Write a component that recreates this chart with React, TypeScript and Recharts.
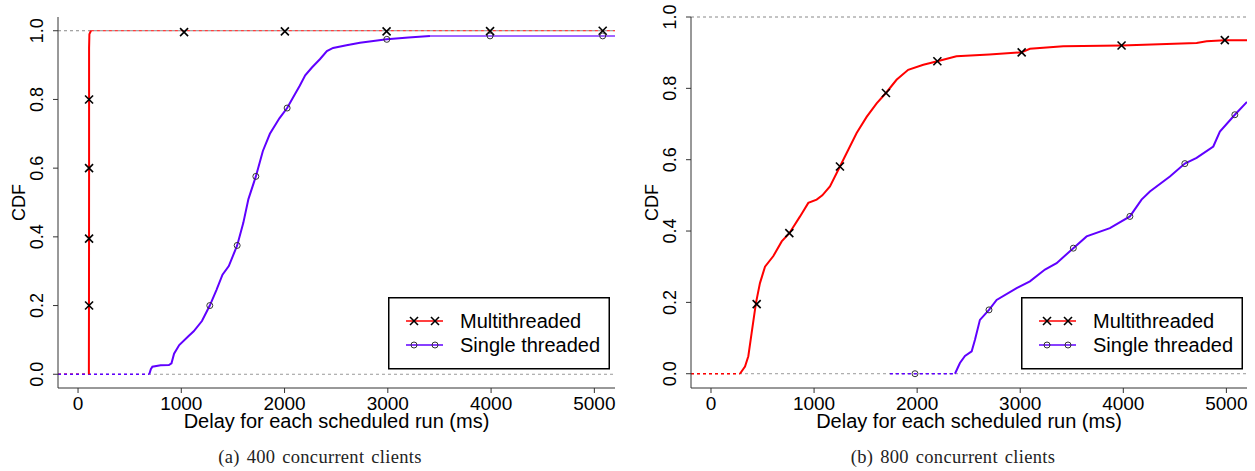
import React from "react";
import { ComposedChart, Line, Scatter, XAxis, YAxis, ReferenceLine } from "recharts";

// ---- data (delay in ms, CDF) ----
const X_TICKS = [0, 1000, 2000, 3000, 4000, 5000];
const Y_TICKS = [0, 0.2, 0.4, 0.6, 0.8, 1.0];

// (a) 400 concurrent clients
const multiA = [[105, 0], [106, 0.2], [107, 0.6], [107, 0.95], [110, 0.99], [125, 1.0]];
const multiAStart = [[-194, 0], [105, 0]];
const multiATail = [[125, 1.0], [5200, 1.0]];
const multiAMarks = [[107, 0.2], [107, 0.395], [107, 0.6], [107, 0.8], [1027, 0.996], [2003, 0.998], [2988, 0.998], [3990, 0.999], [5081, 1.0]];

const singleA = [
  [690, 0], [705, 0.015], [720, 0.022], [800, 0.026], [880, 0.027], [905, 0.032], [930, 0.06], [980, 0.085],
  [1066, 0.11], [1120, 0.125], [1200, 0.155], [1276, 0.2], [1340, 0.245], [1399, 0.29], [1460, 0.315],
  [1541, 0.375], [1600, 0.44], [1650, 0.51], [1722, 0.576], [1790, 0.65], [1858, 0.7], [1950, 0.745],
  [2025, 0.775], [2100, 0.815], [2147, 0.84], [2200, 0.87], [2265, 0.893], [2342, 0.917], [2410, 0.941],
  [2470, 0.95], [2600, 0.958], [2730, 0.965], [2990, 0.975], [3200, 0.98], [3408, 0.985],
];
const singleAStart = [[-194, 0], [690, 0]];
const singleATail = [[3408, 0.985], [5200, 0.985]];
const singleAMarks = [[1276, 0.2], [1541, 0.375], [1722, 0.576], [2025, 0.775], [2990, 0.975], [3990, 0.985], [5081, 0.985]];

// (b) 800 concurrent clients
const multiB = [
  [281, 0], [330, 0.02], [362, 0.049], [394, 0.114], [436, 0.198], [475, 0.254], [524, 0.3], [605, 0.33],
  [686, 0.371], [760, 0.394], [864, 0.441], [944, 0.479], [1025, 0.488], [1080, 0.5], [1154, 0.525],
  [1251, 0.581], [1332, 0.628], [1413, 0.675], [1510, 0.72], [1607, 0.758], [1697, 0.787], [1800, 0.824],
  [1913, 0.852], [2060, 0.866], [2196, 0.876], [2381, 0.89], [2700, 0.895], [3014, 0.901], [3094, 0.911],
  [3417, 0.918], [3983, 0.92], [4711, 0.927], [4808, 0.932], [4985, 0.935], [5200, 0.935],
];
const multiBStart = [[-194, 0], [281, 0]];
const multiBMarks = [[443, 0.195], [760, 0.394], [1251, 0.581], [1697, 0.787], [2196, 0.876], [3014, 0.901], [3983, 0.92], [4985, 0.935]];

const singleB = [
  [2367, 0], [2415, 0.03], [2464, 0.05], [2529, 0.063], [2561, 0.095], [2609, 0.151], [2697, 0.179],
  [2771, 0.207], [2965, 0.24], [3094, 0.259], [3240, 0.292], [3353, 0.31], [3515, 0.352], [3644, 0.385],
  [3870, 0.408], [4064, 0.441], [4177, 0.488], [4258, 0.511], [4452, 0.553], [4597, 0.589], [4711, 0.605],
  [4873, 0.637], [4937, 0.679], [5082, 0.726], [5200, 0.762],
];
const singleBStart = [[1736, 0], [2367, 0]];
const singleBMarks = [[1979, 0], [2697, 0.179], [3515, 0.352], [4064, 0.441], [4597, 0.589], [5082, 0.726]];

const RED = "#ff0000";
const BLUE = "#6000ff";
const SANS = '"Liberation Sans", Arial, Helvetica, sans-serif';
const SERIF = '"Liberation Serif", "Times New Roman", serif';
const X_DOMAIN = [-194, 5200];

const pts = (arr: number[][]) => arr.map(([x, y]) => ({ x, y }));

const XMark = (p: any) => (
  <g stroke="#000" strokeWidth={1.6}>
    <line x1={p.cx - 4} y1={p.cy - 4} x2={p.cx + 4} y2={p.cy + 4} />
    <line x1={p.cx - 4} y1={p.cy + 4} x2={p.cx + 4} y2={p.cy - 4} />
  </g>
);
const OMark = (p: any) => <circle cx={p.cx} cy={p.cy} r={3} fill="none" stroke="#333" strokeWidth={1} />;

// x tick labels, baseline set just under the tick marks
const XTick = (props: any) => {
  const { x, y, payload } = props;
  return (
    <text x={x} y={y + 13} textAnchor="middle" fontSize={19} fontFamily={SANS} fill="#000">
      {payload.value}
    </text>
  );
};

// y tick labels are turned like R's default las=0
const YTick = (props: any) => {
  const { x, y, payload } = props;
  return (
    <text x={x} y={y} transform={`rotate(-90, ${x}, ${y})`} textAnchor="middle" fontSize={18} fontFamily={SANS} fill="#000">
      {Number(payload.value).toFixed(1)}
    </text>
  );
};

const xLabel = (p: any) => {
  const vb = p.viewBox;
  return (
    <text x={vb.x + vb.width / 2} y={428} textAnchor="middle" fontSize={20} fontFamily={SANS} fill="#000">
      Delay for each scheduled run (ms)
    </text>
  );
};

const yLabel = (p: any) => {
  const vb = p.viewBox;
  const x = vb.x + 7;
  const y = vb.y + vb.height / 2;
  return (
    <text x={x} y={y} transform={`rotate(-90, ${x}, ${y})`} textAnchor="middle" fontSize={18} fontFamily={SANS} fill="#000">
      CDF
    </text>
  );
};

function LegendBox({ left }: { left: number }) {
  return (
    <svg style={{ position: "absolute", left, top: 297, overflow: "visible" }} width={222} height={73}>
      <rect x={0.75} y={0.75} width={220.5} height={71} fill="#fff" stroke="#000" strokeWidth={1.5} />
      <line x1={18} y1={24} x2={55} y2={24} stroke={RED} strokeWidth={1.5} />
      <XMark cx={26} cy={24} />
      <XMark cx={47} cy={24} />
      <text x={72} y={31} fontSize={20} fontFamily={SANS} fill="#000">Multithreaded</text>
      <line x1={18} y1={48} x2={55} y2={48} stroke={BLUE} strokeWidth={1.5} />
      <OMark cx={26} cy={48} />
      <OMark cx={47} cy={48} />
      <text x={72} y={55} fontSize={20} fontFamily={SANS} fill="#000">Single threaded</text>
    </svg>
  );
}

type PanelProps = {
  left: number;
  width: number;
  margin: { top: number; right: number; bottom: number; left: number };
  yDomain: number[];
  topBorder: boolean;
  caption: string;
  captionX: number;
  legendLeft: number;
  multi: number[][];
  multiStart: number[][];
  multiTail?: number[][];
  multiMarks: number[][];
  single: number[][];
  singleStart: number[][];
  singleTail?: number[][];
  singleMarks: number[][];
};

function Panel(p: PanelProps) {
  return (
    <>
      <div style={{ position: "absolute", left: p.left, top: 0, width: p.width, height: 440 }}>
        <ComposedChart width={p.width} height={440} margin={p.margin}>
          <XAxis
            dataKey="x"
            type="number"
            domain={X_DOMAIN}
            ticks={X_TICKS}
            allowDataOverflow
            interval={0}
            height={40}
            tickSize={5}
            tickMargin={4}
            stroke="#333"
            tick={<XTick />}
            label={xLabel}
          />
          {p.topBorder && (
            <XAxis xAxisId="top" orientation="top" type="number" domain={X_DOMAIN} allowDataOverflow height={0} tick={false} tickLine={false} stroke="#555" />
          )}
          <YAxis
            type="number"
            domain={p.yDomain}
            ticks={Y_TICKS}
            allowDataOverflow
            interval={0}
            width={40}
            tickSize={5}
            tickMargin={10}
            stroke="#333"
            tick={<YTick />}
            label={yLabel}
          />
          <YAxis yAxisId="right" orientation="right" type="number" domain={p.yDomain} allowDataOverflow width={0} tick={false} tickLine={false} stroke="#333" />
          <ReferenceLine y={0} stroke="#999" strokeDasharray="3 3" strokeWidth={1} />
          <ReferenceLine y={1} stroke="#888" strokeDasharray="3 3" strokeWidth={1} />

          <Line data={pts(p.multiStart)} dataKey="y" stroke={RED} strokeWidth={1.5} strokeDasharray="3 3" dot={false} isAnimationActive={false} />
          <Line data={pts(p.singleStart)} dataKey="y" stroke={BLUE} strokeWidth={1.5} strokeDasharray="3 3" dot={false} isAnimationActive={false} />
          {p.multiTail && (
            <Line data={pts(p.multiTail)} dataKey="y" stroke={RED} strokeWidth={1.2} strokeDasharray="3 3" dot={false} isAnimationActive={false} />
          )}
          <Line data={pts(p.multi)} dataKey="y" stroke={RED} strokeWidth={2} dot={false} isAnimationActive={false} />
          <Line data={pts(p.single)} dataKey="y" stroke={BLUE} strokeWidth={2} dot={false} isAnimationActive={false} />
          {p.singleTail && (
            <Line data={pts(p.singleTail)} dataKey="y" stroke={BLUE} strokeOpacity={0.6} strokeWidth={2} dot={false} isAnimationActive={false} />
          )}
          <Scatter data={pts(p.multiMarks)} dataKey="y" shape={XMark} isAnimationActive={false} />
          <Scatter data={pts(p.singleMarks)} dataKey="y" shape={OMark} isAnimationActive={false} />
        </ComposedChart>
      </div>
      <LegendBox left={p.legendLeft} />
      <div
        style={{
          position: "absolute",
          left: p.captionX - 150,
          width: 300,
          top: 447,
          textAlign: "center",
          fontFamily: SERIF,
          fontSize: 18.5,
          letterSpacing: 0.3,
          wordSpacing: 2,
          color: "#222",
          whiteSpace: "nowrap",
        }}
      >
        {p.caption}
      </div>
    </>
  );
}

export default function App() {
  return (
    <div style={{ position: "absolute", left: 0, top: 0, width: 1255, height: 471, background: "#fff", overflow: "hidden" }}>
      <Panel
        left={0}
        width={630}
        margin={{ top: 17, right: 15, bottom: 12, left: 18 }}
        yDomain={[-0.04, 1.04]}
        topBorder
        caption="(a) 400 concurrent clients"
        captionX={320}
        legendLeft={388}
        multi={multiA}
        multiStart={multiAStart}
        multiTail={multiATail}
        multiMarks={multiAMarks}
        single={singleA}
        singleStart={singleAStart}
        singleTail={singleATail}
        singleMarks={singleAMarks}
      />
      <Panel
        left={630}
        width={625}
        margin={{ top: 17, right: 8, bottom: 12, left: 21 }}
        yDomain={[-0.04, 1.0]}
        topBorder={false}
        caption="(b) 800 concurrent clients"
        captionX={953}
        legendLeft={1021}
        multi={multiB}
        multiStart={multiBStart}
        multiMarks={multiBMarks}
        single={singleB}
        singleStart={singleBStart}
        singleMarks={singleBMarks}
      />
    </div>
  );
}
